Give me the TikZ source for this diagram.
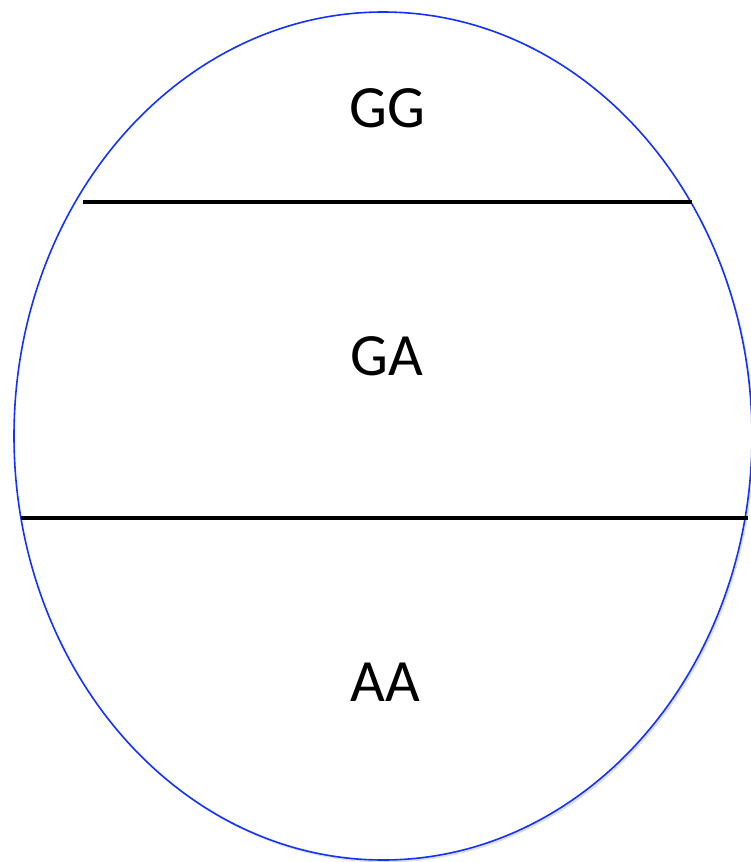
\documentclass[tikz,border=0pt]{standalone}
\usepackage{fontspec}
\setmainfont{Carlito}
\tikzset{
  lbl/.style={font=\fontsize{60}{70}\selectfont, text=black, inner sep=0pt, anchor=base},
  divider/.style={line width=4.5pt, black},
}
\begin{document}
\begin{tikzpicture}[x=1pt,y=-1pt]
\useasboundingbox (0,0) rectangle (751,862);
\fill[black!12] (385,438.5) ellipse [x radius=369, y radius=424];
\fill[white] (383,436) ellipse [x radius=369, y radius=424];
\draw[line width=1.6pt, color={rgb,255:red,20;green,50;blue,255}] (383,436) ellipse [x radius=369, y radius=424];
\coordinate (l1a) at (83,202);
\coordinate (l1b) at (692,202);
\coordinate (l2a) at (21,518);
\coordinate (l2b) at (748,518);
\draw[divider] (l1a) -- (l1b);
\draw[divider] (l2a) -- (l2b);
\node[lbl] (gg) at (387,127) {GG};
\node[lbl] (ga) at (387,375) {GA};
\node[lbl] (aa) at (385,701) {AA};
\end{tikzpicture}
\end{document}
